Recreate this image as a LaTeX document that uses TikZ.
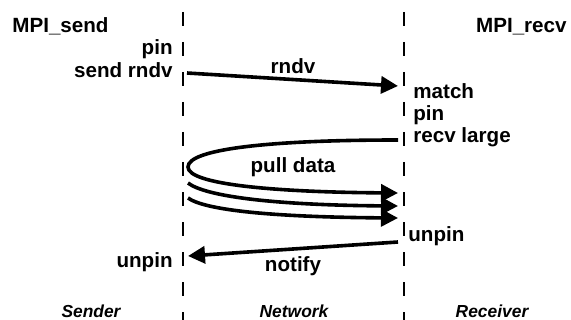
\documentclass[tikz,border=0pt]{standalone}
\usepackage{fontspec}
\setmainfont{Liberation Sans}
\usetikzlibrary{arrows.meta}

\begin{document}
\begin{tikzpicture}[x=0.5pt,y=-0.5pt,
  lbl/.style={font=\bfseries\fontsize{10.3}{12}\selectfont,inner sep=0pt},
  role/.style={font=\bfseries\itshape\fontsize{8.7}{10}\selectfont,inner sep=0pt},
  lifeline/.style={line width=0.7pt,dash pattern=on 7pt off 8pt},
  msg/.style={line width=1.8pt,-{Triangle[length=8.5pt,width=8.5pt]}}]

\useasboundingbox (0,0) rectangle (571,320);

% lifelines
\coordinate (lsTop) at (183,12);
\coordinate (lsBot) at (183,320);
\coordinate (lrTop) at (404,12);
\coordinate (lrBot) at (404,320);
\draw[lifeline] (lsTop) -- (lsBot);
\draw[lifeline] (lrTop) -- (lrBot);

% sender side
\node[lbl,anchor=base west] (mpisend) at (12,33) {MPI\_send};
\node[lbl,anchor=base east] (spin) at (173,55) {pin};
\node[lbl,anchor=base east] (srndv) at (173,78) {send rndv};
\node[lbl,anchor=base east] (sunpin) at (173,267) {unpin};

% receiver side
\node[lbl,anchor=base east] (mpirecv) at (567,33) {MPI\_recv};
\node[lbl,anchor=base west] (rmatch) at (413,99) {match};
\node[lbl,anchor=base west] (rpin) at (413,121) {pin};
\node[lbl,anchor=base west] (rlarge) at (413,142) {recv large};
\node[lbl,anchor=base west] (runpin) at (408,241) {unpin};

% message labels
\node[lbl,anchor=base] (mrndv) at (293,74) {rndv};
\node[lbl,anchor=base] (mpull) at (293,172) {pull data};
\node[lbl,anchor=base] (mnotify) at (293,271) {notify};

% end points on the lifelines
\coordinate (rndvA) at (187,73);
\coordinate (rndvB) at (398,86);
\coordinate (pullA) at (398,140);
\coordinate (pullL) at (188,167);
\coordinate (pullB) at (398,193);
\coordinate (pullC) at (188,183);
\coordinate (pullD) at (398,206);
\coordinate (pullE) at (188,198);
\coordinate (pullF) at (398,218);
\coordinate (notA) at (398,242);
\coordinate (notB) at (188,256);

% messages
\draw[msg] (rndvA) -- (rndvB);
\draw[msg] (pullA) .. controls (270,140) and (188,149) .. (pullL)
  .. controls (188,184) and (270,192) .. (pullB);
\draw[msg] (pullC) .. controls (205,196) and (270,205) .. (pullD);
\draw[msg] (pullE) .. controls (205,210) and (270,217) .. (pullF);
\draw[msg] (notA) -- (notB);

% roles
\node[role,anchor=base] (sender) at (91,317) {Sender};
\node[role,anchor=base] (network) at (294,317) {Network};
\node[role,anchor=base] (receiver) at (492,317) {Receiver};

\end{tikzpicture}
\end{document}
